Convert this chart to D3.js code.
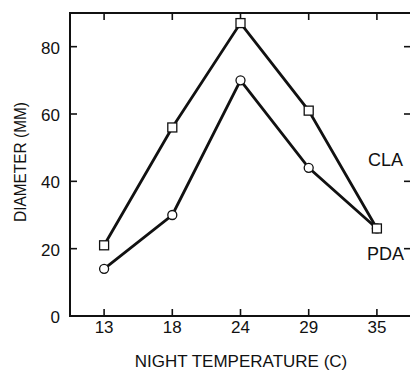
<!DOCTYPE html>
<html>
<head>
<meta charset="utf-8">
<script src="https://cdn.jsdelivr.net/npm/d3@7"></script>
<style>
  body { margin: 0; background: #fff; }
  text { font-family: "Liberation Sans", Arial, sans-serif; fill: #111; }
</style>
</head>
<body>
<div id="chart"></div>
<script>
// data
const temps = ['13', '18', '24', '29', '35'];
const cla = [21, 56, 87, 61, 26];
const pda = [14, 30, 70, 44, 26];
const yTicks = [0, 20, 40, 60, 80];

const width = 410, height = 370;
const margin = {top: 13, right: -1, bottom: 54, left: 70};

const svg = d3.select('#chart').append('svg')
    .attr('width', width)
    .attr('height', height);

const x = d3.scaleBand()
    .domain(temps)
    .range([margin.left, width - margin.right]);

const y = d3.scaleLinear()
    .domain([0, 90])
    .range([height - margin.bottom, margin.top]);

const cx = d => x(d) + x.bandwidth() / 2;

// frame
svg.append('rect')
    .attr('x', margin.left)
    .attr('y', margin.top)
    .attr('width', width - margin.right - margin.left)
    .attr('height', y(0) - margin.top)
    .attr('fill', 'none')
    .attr('stroke', '#111')
    .attr('stroke-width', 2);

// inward ticks on all four sides
const tickLen = 7;
const tk = svg.append('g').attr('stroke', '#111').attr('stroke-width', 1.6);
temps.forEach(t => {
  tk.append('line').attr('x1', cx(t)).attr('x2', cx(t)).attr('y1', y(0)).attr('y2', y(0) - tickLen);
  tk.append('line').attr('x1', cx(t)).attr('x2', cx(t)).attr('y1', margin.top).attr('y2', margin.top + tickLen);
});
yTicks.slice(1).forEach(v => {
  tk.append('line').attr('x1', margin.left).attr('x2', margin.left + tickLen).attr('y1', y(v)).attr('y2', y(v));
  tk.append('line').attr('x1', width - margin.right).attr('x2', width - margin.right - tickLen).attr('y1', y(v)).attr('y2', y(v));
});

// tick labels
svg.append('g').selectAll('text')
    .data(temps)
    .enter().append('text')
    .attr('x', d => cx(d))
    .attr('y', y(0) + 17)
    .attr('text-anchor', 'middle')
    .attr('font-size', 17)
    .text(d => d);

svg.append('g').selectAll('text')
    .data(yTicks)
    .enter().append('text')
    .attr('x', margin.left - 10)
    .attr('y', d => y(d) + 7)
    .attr('text-anchor', 'end')
    .attr('font-size', 17)
    .text(d => d);

// axis titles
svg.append('text')
    .attr('x', 241)
    .attr('y', 367)
    .attr('text-anchor', 'middle')
    .attr('font-size', 17)
    .text('NIGHT TEMPERATURE (C)');

svg.append('text')
    .attr('transform', 'translate(26, 162) rotate(-90)')
    .attr('text-anchor', 'middle')
    .attr('font-size', 16)
    .attr('textLength', 120)
    .attr('lengthAdjust', 'spacingAndGlyphs')
    .text('DIAMETER (MM)');

// lines
const line = d3.line()
    .x((d, i) => cx(temps[i]))
    .y(d => y(d));

[cla, pda].forEach(s => {
  svg.append('path')
      .datum(s)
      .attr('d', line)
      .attr('fill', 'none')
      .attr('stroke', '#111')
      .attr('stroke-width', 2.8);
});

// markers
svg.append('g').selectAll('circle')
    .data(pda)
    .enter().append('circle')
    .attr('cx', (d, i) => cx(temps[i]))
    .attr('cy', d => y(d))
    .attr('r', 4.5)
    .attr('fill', '#fff')
    .attr('stroke', '#111')
    .attr('stroke-width', 1.3);

svg.append('g').selectAll('rect')
    .data(cla)
    .enter().append('rect')
    .attr('x', (d, i) => cx(temps[i]) - 4.5)
    .attr('y', d => y(d) - 4.5)
    .attr('width', 9)
    .attr('height', 9)
    .attr('fill', '#fff')
    .attr('stroke', '#111')
    .attr('stroke-width', 1.3);

// series labels
svg.append('text')
    .attr('x', 368)
    .attr('y', 166)
    .attr('font-size', 18)
    .text('CLA');

svg.append('text')
    .attr('x', 367)
    .attr('y', 260)
    .attr('font-size', 18)
    .text('PDA');
</script>
</body>
</html>
